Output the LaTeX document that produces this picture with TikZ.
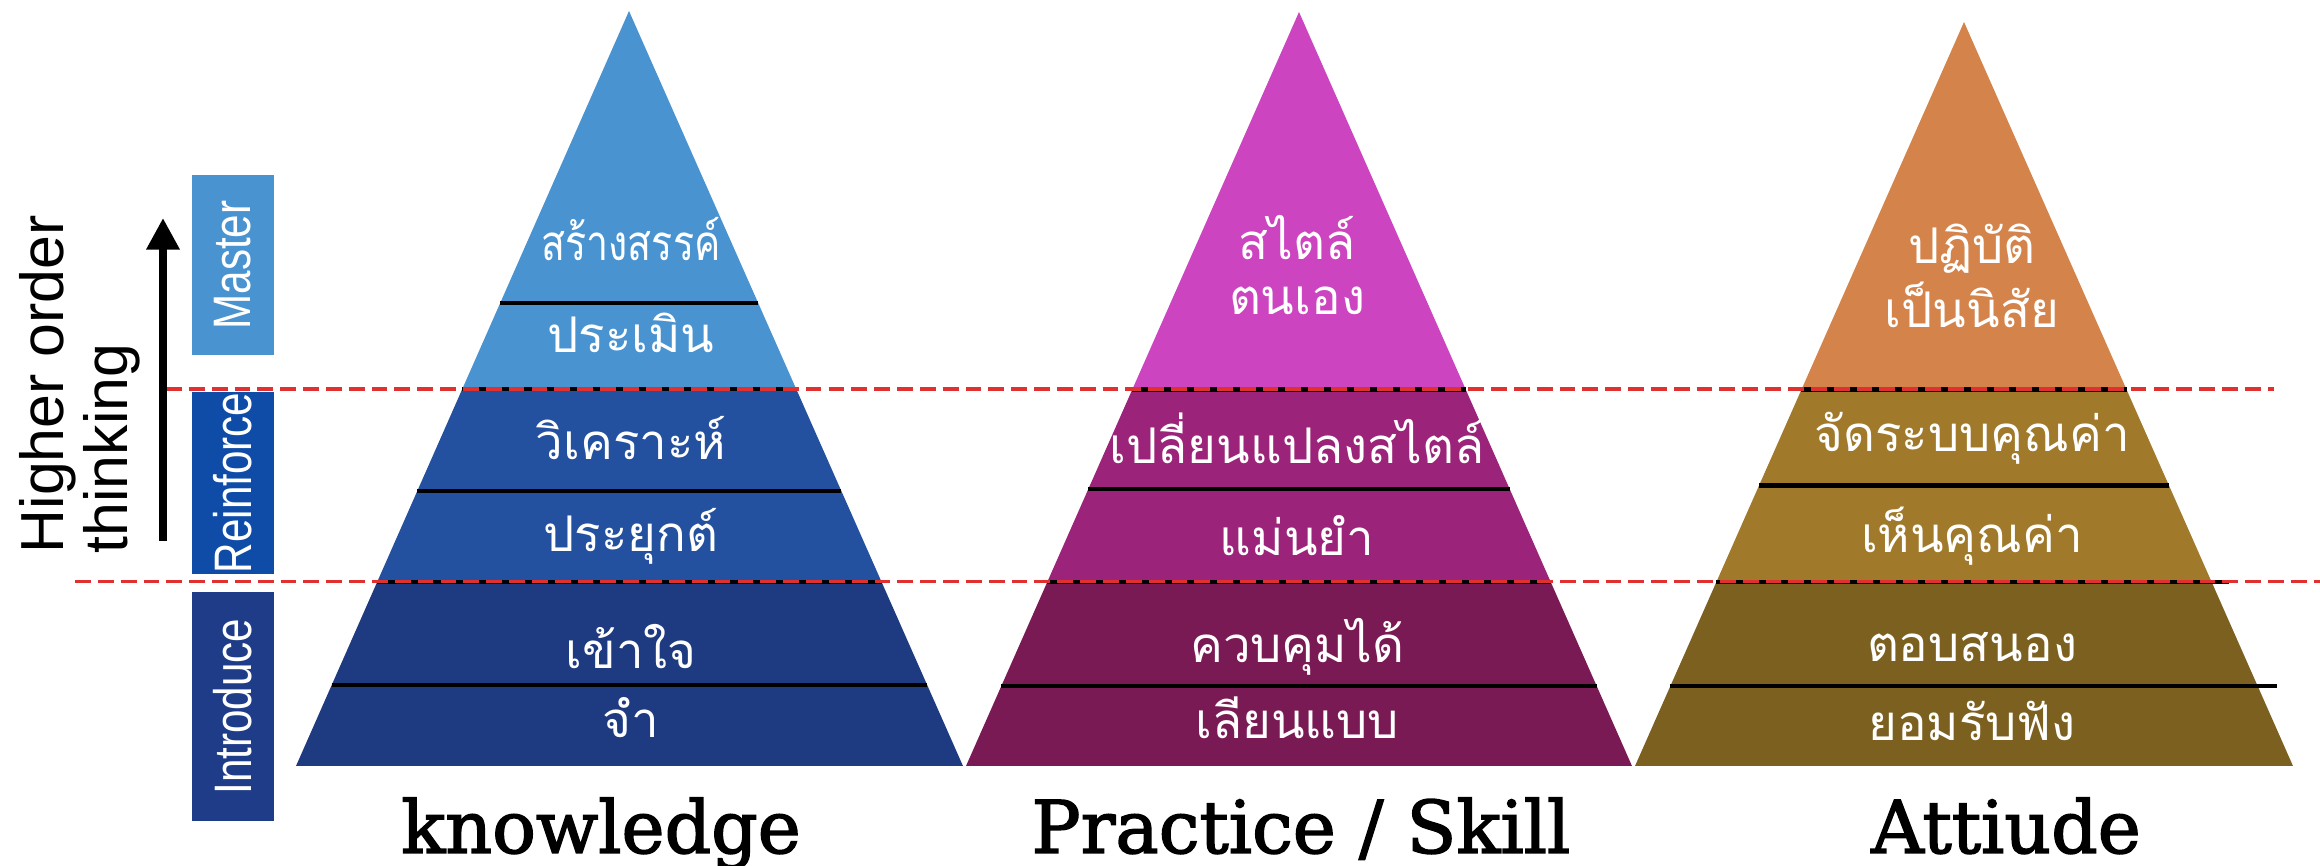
\documentclass[tikz,border=0pt]{standalone}
\usepackage{fontspec}
\newfontfamily\thaifont[Script=Thai]{Loma}
\newfontfamily\sidefont{Liberation Sans}
\newfontfamily\tagfont[FakeStretch=0.8]{Liberation Sans}
\newfontfamily\titlefont[FakeBold=2]{DejaVu Serif}
\usetikzlibrary{arrows.meta,calc}

\definecolor{knowTop}{HTML}{4A93D1}
\definecolor{knowMid}{HTML}{23509F}
\definecolor{knowBot}{HTML}{1E3A80}
\definecolor{pracTop}{HTML}{CC44C0}
\definecolor{pracMid}{HTML}{9B2379}
\definecolor{pracBot}{HTML}{7A1A55}
\definecolor{attTop}{HTML}{D4844A}
\definecolor{attMid}{HTML}{A07A2A}
\definecolor{attBot}{HTML}{7C6020}
\definecolor{tagMaster}{HTML}{4A93D1}
\definecolor{tagReinf}{HTML}{0E4CA8}
\definecolor{tagIntro}{HTML}{1F3C88}
\definecolor{levelRed}{HTML}{E03030}

\begin{document}
\begin{tikzpicture}[
  layer/.style={font=\thaifont\fontsize{14}{18}\selectfont, text=white, align=center, inner sep=0pt},
  sep/.style={black, line width=1.2pt},
  level/.style={levelRed, dash pattern=on 4.5pt off 2pt, line width=1pt},
  tag/.style={minimum width=0.82cm, inner sep=0pt, text=white, rotate=90,
    font=\tagfont\fontsize{15}{18}\selectfont},
  title/.style={anchor=base, font=\titlefont\fontsize{20.7}{24}\selectfont}
]
\useasboundingbox (0,0) rectangle (23.2,8.66);

% corners of the three pyramids
\coordinate (kL) at (2.96,1.00);  \coordinate (kA) at (6.29,8.55);  \coordinate (kR) at (9.63,1.00);
\coordinate (pL) at (9.66,1.00);  \coordinate (pA) at (12.99,8.54); \coordinate (pR) at (16.32,1.00);
\coordinate (aL) at (16.35,1.00); \coordinate (aA) at (19.64,8.44); \coordinate (aR) at (22.93,1.00);

% knowledge
\begin{scope}
  \clip (kL) -- (kA) -- (kR) -- cycle;
  \fill[knowBot] (2.9,0.9) rectangle (9.7,2.845);
  \fill[knowMid] (2.9,2.845) rectangle (9.7,4.77);
  \fill[knowTop] (2.9,4.77) rectangle (9.7,8.6);
\end{scope}
% practice
\begin{scope}
  \clip (pL) -- (pA) -- (pR) -- cycle;
  \fill[pracBot] (9.6,0.9) rectangle (16.4,2.845);
  \fill[pracMid] (9.6,2.845) rectangle (16.4,4.77);
  \fill[pracTop] (9.6,4.77) rectangle (16.4,8.6);
\end{scope}
% attitude
\begin{scope}
  \clip (aL) -- (aA) -- (aR) -- cycle;
  \fill[attBot] (16.3,0.9) rectangle (23.0,2.845);
  \fill[attMid] (16.3,2.845) rectangle (23.0,4.77);
  \fill[attTop] (16.3,4.77) rectangle (23.0,8.6);
\end{scope}

% separating lines
\draw[sep] ($(kL)!0.6135!(kA)$) -- ($(kR)!0.6135!(kA)$);
\draw[sep] ($(kL)!0.4993!(kA)$) -- ($(kR)!0.4993!(kA)$);
\draw[sep] ($(kL)!0.3639!(kA)$) -- ($(kR)!0.3639!(kA)$);
\draw[sep] ($(kL)!0.2437!(kA)$) -- ($(kR)!0.2437!(kA)$);
\draw[sep] ($(kL)!0.1076!(kA)$) -- ($(kR)!0.1076!(kA)$);

\draw[sep] ($(pL)!0.4993!(pA)$) -- ($(pR)!0.4993!(pA)$);
\draw[sep] ($(pL)!0.3678!(pA)$) -- ($(pR)!0.3678!(pA)$);
\draw[sep] ($(pL)!0.2437!(pA)$) -- ($(pR)!0.2437!(pA)$);
\draw[sep] ($(pL)!0.1062!(pA)$) -- ($(pR)!0.1062!(pA)$);

\draw[sep] ($(aL)!0.506!(aA)$) -- ($(aR)!0.506!(aA)$);
\draw[sep] ($(aL)!0.3769!(aA)$) -- ($(aR)!0.3769!(aA)$);
\draw[sep] ($(aL)!0.247!(aA)$) -- ($(aR)!0.247!(aA)+(0.17,0)$);
\draw[sep] ($(aL)!0.1077!(aA)$) -- ($(aR)!0.1077!(aA)+(0.19,0)$);

% level lines
\coordinate (up1) at (1.66,4.77);  \coordinate (up2) at (22.74,4.77);
\coordinate (lo1) at (0.75,2.845); \coordinate (lo2) at (23.2,2.845);
\draw[level] (up1) -- (up2);
\draw[level] (lo1) -- (lo2);

% knowledge texts
\node[layer] (k6) at (6.31,6.27) {\scalebox{0.8}[1]{สร้างสรรค์}};
\node[layer] (k5) at (6.31,5.33) {ประเมิน};
\node[layer] (k4) at (6.31,4.28) {วิเคราะห์};
\node[layer] (k3) at (6.31,3.30) {ประยุกต์};
\node[layer] (k2) at (6.31,2.19) {เข้าใจ};
\node[layer] (k1) at (6.31,1.48) {จำ};

% practice texts
\node[layer] (p5) at (12.97,6.01) {สไตล์\\[-2.5pt]ตนเอง};
\node[layer] (p4) at (12.97,4.28) {เปลี่ยนแปลงสไตล์};
\node[layer] (p3) at (12.97,3.30) {แม่นยำ};
\node[layer] (p2) at (12.97,2.19) {ควบคุมได้};
\node[layer] (p1) at (12.97,1.48) {เลียนแบบ};

% attitude texts
\node[layer] (a5) at (19.72,5.90) {ปฏิบัติ\\เป็นนิสัย};
\node[layer] (a4) at (19.72,4.28) {จัดระบบคุณค่า};
\node[layer] (a3) at (19.72,3.30) {เห็นคุณค่า};
\node[layer] (a2) at (19.72,2.19) {ตอบสนอง};
\node[layer] (a1) at (19.72,1.455) {ยอมรับฟัง};

% titles
\node[title] (kT) at (6.01,0.13) {knowledge};
\node[title] (pT) at (13.01,0.13) {Practice / Skill};
\node[title] (aT) at (20.06,0.13) {Attiude};

% side tags
\fill[tagMaster] (1.92,5.11) rectangle (2.74,6.91);
\fill[tagReinf]  (1.92,2.92) rectangle (2.74,4.74);
\fill[tagIntro]  (1.92,0.45) rectangle (2.74,2.74);
\node[tag] (master) at (2.33,6.01) {Master};
\node[tag] (reinf)  at (2.33,3.83) {Reinforce};
\node[tag] (intro)  at (2.33,1.595) {Introduce};

% higher order arrow
\coordinate (arrBot) at (1.63,3.25);
\coordinate (arrTop) at (1.63,6.48);
\draw[line width=2.2pt, -{Triangle[length=9pt,width=9pt]}] (arrBot) -- (arrTop);
\node[rotate=90, anchor=north west, align=left, inner sep=0pt,
  font=\sidefont\fontsize{17.3}{18}\selectfont] (hot) at (0.19,3.12) {Higher order\\thinking};
\end{tikzpicture}
\end{document}
